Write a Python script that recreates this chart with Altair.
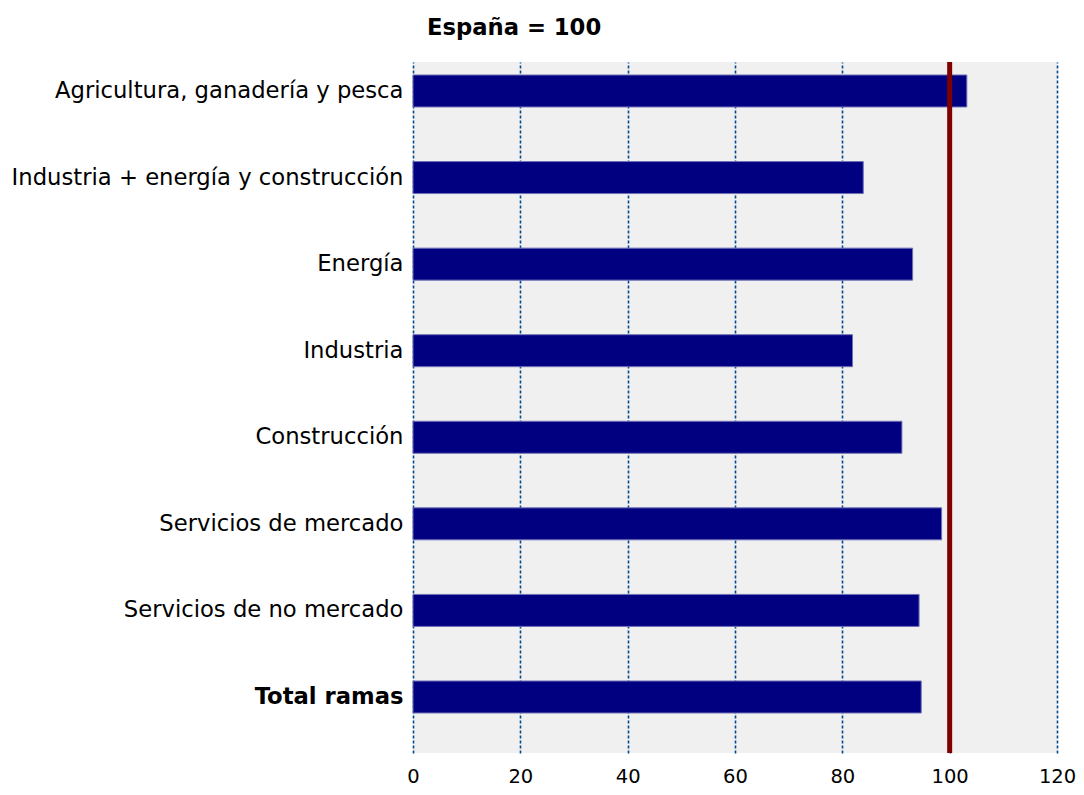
import altair as alt
import pandas as pd

categories = [
    "Agricultura, ganadería y pesca",
    "Industria + energía y construcción",
    "Energía",
    "Industria",
    "Construcción ",
    "Servicios de mercado",
    "Servicios de no mercado",
    "Total ramas",
]
values = [103.2, 83.9, 93.1, 81.9, 91.1, 98.5, 94.3, 94.7]
reference = [100]
x_ticks = [0, 20, 40, 60, 80, 100, 120]

df = pd.DataFrame({"rama": categories, "valor": values})
ref_df = pd.DataFrame({"ref": reference})

FONT = "DejaVu Sans"

bars = alt.Chart(df).mark_bar(
    color="#000080", stroke="#7070b8", strokeWidth=1
).encode(
    x=alt.X(
        "valor:Q",
        scale=alt.Scale(domain=[0, 120], nice=False, zero=True),
        axis=alt.Axis(
            values=x_ticks,
            title=None,
            ticks=False,
            domain=False,
            grid=True,
            gridColor="#004a90",
            gridDash=[3, 2],
            gridWidth=1.6,
            gridOpacity=1,
            labelFont=FONT,
            labelFontSize=19.5,
            labelColor="#000000",
            labelPadding=14,
            labelFlush=False,
        ),
    ),
    y=alt.Y(
        "rama:N",
        sort=categories,
        scale=alt.Scale(paddingInner=0.6304, paddingOuter=0.3061, align=0.245),
        axis=alt.Axis(
            title=None,
            ticks=False,
            domain=False,
            labelFont=FONT,
            labelFontSize=22.7,
            labelColor="#000000",
            labelPadding=10,
            labelLimit=600,
            labelFontWeight={
                "condition": {"test": "datum.value == 'Total ramas'", "value": "bold"},
                "value": "normal",
            },
        ),
    ),
)

rule = alt.Chart(ref_df).mark_rule(color="#800000", strokeWidth=5).encode(
    x=alt.X("ref:Q")
)

chart = (
    alt.layer(bars, rule)
    .properties(
        width=644,
        height=691,
        autosize=alt.AutoSizeParams(type="none"),
        padding={"left": 405, "top": 54, "right": 19, "bottom": 34},
        title=alt.TitleParams(
            "España = 100",
            anchor="start",
            frame="group",
            font=FONT,
            fontSize=22.7,
            fontWeight="bold",
            color="#000000",
            dx=14,
            offset=20,
        ),
    )
    .configure_view(fill="#f0f0f0", stroke=None)
)

chart.save("out.html", embed_options={"renderer": "svg", "actions": False})
